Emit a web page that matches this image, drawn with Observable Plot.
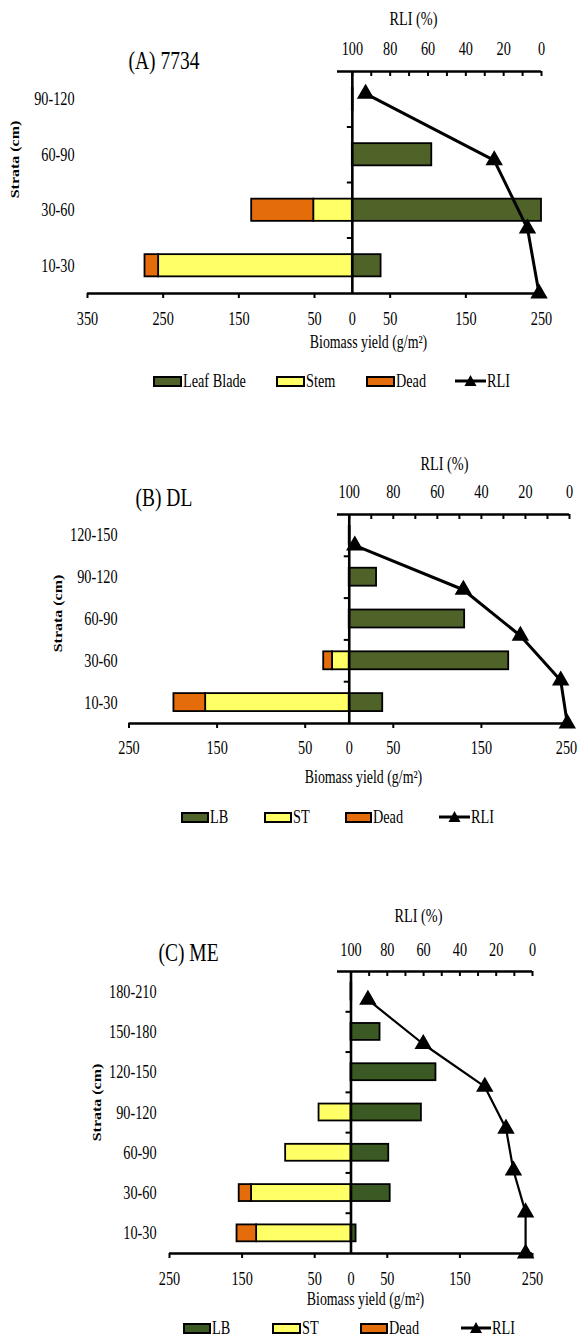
<!DOCTYPE html>
<html><head><meta charset="utf-8">
<script src="https://cdn.jsdelivr.net/npm/d3@7"></script>
<script src="https://cdn.jsdelivr.net/npm/@observablehq/plot@0.6"></script>
<style>
body{margin:0;background:#fff;}
#page{position:relative;width:578px;height:1340px;overflow:hidden;background:#fff;font-family:"Liberation Serif","Times New Roman",serif;color:#000;}
.panel{position:absolute;left:0;}
.box{position:absolute;border:2px solid #000;box-sizing:border-box;height:11px;}
.lt{position:absolute;font-size:19px;line-height:20px;white-space:nowrap;transform:scaleX(0.75);transform-origin:0 50%;}
.mk{position:absolute;}
</style></head><body><div id="page"></div>
<script>
// ---------- DATA ----------
// (A) 7734
const strataA = ["10-30", "30-60", "60-90", "90-120"];
const leafA = [38, 250, 105, 1];
const stemA = [256, 51, 0, 0];
const deadA = [18, 82, 0, 0];
const rliA = [1.3, 7.4, 25, 93];
const rliLevelA = [0, 1.17, 2.40, 3.60];
const xTicksA = [-350, -250, -150, -50, 0, 50, 150, 250];

// (B) DL
const strataB = ["10-30", "30-60", "60-90", "90-120", "120-150"];
const leafB = [38, 181, 131, 31, 1];
const stemB = [163, 19, 0, 0, 0];
const deadB = [36, 10, 0, 0, 0];
const rliB = [1, 4, 22.3, 48.2, 97.5];
const rliLevelB = [0, 1.03, 2.1, 3.2, 4.26];
const xTicksB = [-250, -150, -50, 0, 50, 150, 250];

// (C) ME
const strataC = ["10-30", "30-60", "60-90", "90-120", "120-150", "150-180", "180-210"];
const leafC = [7, 54, 52, 97, 117, 40, 1];
const stemC = [130, 137, 90, 44, 0, 0, 0];
const deadC = [27, 17, 0, 0, 0, 0, 0];
const rliC = [3.8, 3.8, 10.5, 14.6, 26.3, 60.2, 90.7];
const rliLevelC = [0, 1.02, 2.06, 3.1, 4.14, 5.2, 6.3];
const xTicksC = [-250, -150, -50, 0, 50, 150, 250];

// RLI (%) top axis
const rliTickLabels = [100, 80, 60, 40, 20, 0];
const rliMinorTicks = [100, 90, 80, 70, 60, 50, 40, 30, 20, 10, 0];

const partNames = ["LB", "ST", "Dead"];
const stemColor = "#FFFF66";
const deadColor = "#E46C0A";

// ---------- DRAW ----------
const page = document.getElementById("page");
const SX = 0.75; // horizontal squeeze of the lettering, as in the reference

function squeezeTexts(svg) {
  svg.querySelectorAll("text").forEach(t => {
    const tr = t.getAttribute("transform");
    if (tr) {
      t.setAttribute("transform", tr + (tr.includes("rotate") ? ` scale(1,${SX})` : ` scale(${SX},1)`));
    } else {
      const x = +t.getAttribute("x") || 0, y = +t.getAttribute("y") || 0;
      t.setAttribute("transform", `translate(${x},${y}) scale(${SX},1) translate(${-x},${-y})`);
    }
  });
}

function panel(cfg) {
  const {strata, leaf, stem, dead, rli, rliLevel, xTicks, xDomain, top, height,
         ml, mr, mt, mb, lbColor, half, lineW, title, titlePos, rliTitlePos,
         topLabelY, botLabelY, strataRight, strataLabelPos, biomassPos, topStartPx, edgeDx} = cfg;
  const n = strata.length;
  const W = 578;
  const k = (W - ml - mr) / (xDomain[1] - xDomain[0]);   // px per unit
  const bandPx = (height - mt - mb) / n;
  const xOfPx = (px) => xDomain[0] + (px - ml) / k;
  const segs = [];
  strata.forEach((s, i) => {
    segs.push({i, x1: 0, x2: leaf[i], part: "LB"});
    if (stem[i]) segs.push({i, x1: -stem[i], x2: 0, part: "ST"});
    if (dead[i]) segs.push({i, x1: -stem[i] - dead[i], x2: -stem[i], part: "Dead"});
  });
  const pts = rli.map((v, j) => ({v, lvl: rliLevel[j]}));
  const rx = (r) => (100 - r) * 2.5;
  const bounds = d3.range(1, n);
  const at = (txt, px, py, o = {}) => Plot.text([txt], {
    frameAnchor: "top-left", dx: px - ml, dy: py - top - mt, lineAnchor: "middle", fill: "black", ...o
  });
  const xLast = xTicks[xTicks.length - 1];
  const svg = Plot.plot({
    width: W, height, marginLeft: ml, marginRight: mr, marginTop: mt, marginBottom: mb,
    x: {domain: xDomain, axis: null},
    y: {domain: [0, n], axis: null},
    color: {domain: partNames, range: [lbColor, stemColor, deadColor]},
    style: {fontFamily: "'Liberation Serif', 'Times New Roman', serif", fontSize: "19px", background: "transparent", color: "black", overflow: "visible"},
    marks: [
      Plot.rect(segs, {x1: "x1", x2: "x2", y1: d => d.i + 0.5 - half, y2: d => d.i + 0.5 + half,
        fill: "part", stroke: "black", strokeWidth: 1.8}),
      // axes lines
      Plot.ruleY([0], {x1: xDomain[0], x2: xDomain[1], stroke: "black", strokeWidth: 2.6}),
      Plot.ruleY([n], {x1: xOfPx(topStartPx), x2: xDomain[1], stroke: "black", strokeWidth: 2.6}),
      Plot.ruleX([0], {y1: 0, y2: n, stroke: "black", strokeWidth: 2.6}),
      // bottom ticks (downward)
      Plot.ruleX(xTicks.filter(d => d !== 0), {x: d => d, y1: 0, y2: -5 / bandPx, stroke: "black", strokeWidth: 2}),
      // top RLI ticks (downward, inside)
      Plot.ruleX(rliMinorTicks, {x: rx, y1: n, y2: n - 5 / bandPx, stroke: "black", strokeWidth: 2}),
      // stratum boundary ticks on zero line
      Plot.ruleY(bounds, {x1: -5 / k, x2: 0, stroke: "black", strokeWidth: 2}),
      // tick labels
      Plot.text(xTicks.filter(d => d !== xLast), {x: d => d, frameAnchor: "top", dy: botLabelY - top - mt, text: d => String(Math.abs(d)), lineAnchor: "middle", fontSize: 19}),
      Plot.text([xLast], {x: d => d, frameAnchor: "top", dx: edgeDx, dy: botLabelY - top - mt, text: d => String(Math.abs(d)), lineAnchor: "middle", fontSize: 19}),
      Plot.text(rliTickLabels, {x: rx, frameAnchor: "top", dy: topLabelY - top - mt, text: d => String(d), lineAnchor: "middle", fontSize: 19}),
      Plot.text(strata, {y: (d, i) => i + 0.5, frameAnchor: "left", dx: strataRight - ml, textAnchor: "end", lineAnchor: "middle", fontSize: 19}),
      // RLI profile
      Plot.line(pts, {x: d => rx(d.v), y: "lvl", stroke: "black", strokeWidth: lineW}),
      Plot.dot(pts, {x: d => rx(d.v), y: "lvl", symbol: "triangle", r: 5.5, fill: "black", stroke: "black"}),
      // titles
      at(title, titlePos[0], titlePos[1], {textAnchor: "start", fontSize: 26}),
      at("RLI (%)", rliTitlePos[0], rliTitlePos[1], {textAnchor: "middle", fontSize: 19}),
      at("Strata (cm)", strataLabelPos[0], strataLabelPos[1], {textAnchor: "middle", rotate: -90, fontSize: 16, fontWeight: "bold"}),
      at("Biomass yield (g/m²)", biomassPos[0], biomassPos[1], {textAnchor: "middle", fontSize: 18.5})
    ]
  });
  squeezeTexts(svg);
  const wrap = document.createElement("div");
  wrap.className = "panel";
  wrap.style.top = top + "px";
  wrap.appendChild(svg);
  page.appendChild(wrap);
}

function legend(y, items, lbColor) {
  const colors = {LB: lbColor, ST: stemColor, Dead: deadColor};
  for (const it of items) {
    if (it.kind === "RLI") {
      const s = document.createElementNS("http://www.w3.org/2000/svg", "svg");
      s.setAttribute("width", it.x1 - it.x0);
      s.setAttribute("height", 14);
      s.setAttribute("class", "mk");
      s.style.left = it.x0 + "px";
      s.style.top = (y - 7) + "px";
      const w = it.x1 - it.x0;
      s.innerHTML = `<line x1="0" x2="${w}" y1="7" y2="7" stroke="black" stroke-width="3"/>` +
        `<path d="M${w / 2 - 6},12 L${w / 2},1 L${w / 2 + 6},12 Z" fill="black"/>`;
      page.appendChild(s);
    } else {
      const b = document.createElement("div");
      b.className = "box";
      b.style.left = it.x0 + "px";
      b.style.width = (it.x1 - it.x0) + "px";
      b.style.top = (y - 5.5) + "px";
      b.style.background = colors[it.kind];
      page.appendChild(b);
    }
    const t = document.createElement("span");
    t.className = "lt";
    t.textContent = it.label;
    t.style.left = (it.x1 + 1) + "px";
    t.style.top = (y - 10) + "px";
    page.appendChild(t);
  }
}

panel({
  strata: strataA, leaf: leafA, stem: stemA, dead: deadA, rli: rliA, rliLevel: rliLevelA,
  xTicks: xTicksA, xDomain: [-350, 250], top: 0, height: 355, ml: 87, mr: 37, mt: 71, mb: 62,
  lbColor: "#4F6228", half: 0.2, lineW: 3, title: "(A) 7734", titlePos: [128, 60],
  rliTitlePos: [413, 18], topLabelY: 48, botLabelY: 318, strataRight: 74,
  strataLabelPos: [15, 159], biomassPos: [368, 342], topStartPx: 337, edgeDx: 0
});
legend(381, [
  {kind: "LB", x0: 153, x1: 182, label: "Leaf Blade"},
  {kind: "ST", x0: 276, x1: 305, label: "Stem"},
  {kind: "Dead", x0: 366, x1: 395, label: "Dead"},
  {kind: "RLI", x0: 455, x1: 486, label: "RLI"}
], "#4F6228");

panel({
  strata: strataB, leaf: leafB, stem: stemB, dead: deadB, rli: rliB, rliLevel: rliLevelB,
  xTicks: xTicksB, xDomain: [-250, 250], top: 440, height: 350, ml: 128.5, mr: 9, mt: 74, mb: 67,
  lbColor: "#4F6228", half: 0.215, lineW: 3, title: "(B) DL", titlePos: [135, 497],
  rliTitlePos: [444, 463], topLabelY: 491, botLabelY: 747, strataRight: 117,
  strataLabelPos: [58, 613], biomassPos: [363, 777], topStartPx: 337, edgeDx: -3
});
legend(817, [
  {kind: "LB", x0: 181, x1: 209, label: "LB"},
  {kind: "ST", x0: 264, x1: 292, label: "ST"},
  {kind: "Dead", x0: 345, x1: 372, label: "Dead"},
  {kind: "RLI", x0: 439, x1: 470, label: "RLI"}
], "#4F6228");

panel({
  strata: strataC, leaf: leafC, stem: stemC, dead: deadC, rli: rliC, rliLevel: rliLevelC,
  xTicks: xTicksC, xDomain: [-250, 250], top: 895, height: 420, ml: 169, mr: 46, mt: 76, mb: 62,
  lbColor: "#3B5A23", half: 0.21, lineW: 2.2, title: "(C) ME", titlePos: [158, 952],
  rliTitlePos: [418, 915], topLabelY: 949, botLabelY: 1278, strataRight: 156,
  strataLabelPos: [97, 1102], biomassPos: [365, 1299], topStartPx: 337, edgeDx: 0
});
legend(1328, [
  {kind: "LB", x0: 183, x1: 211, label: "LB"},
  {kind: "ST", x0: 272, x1: 301, label: "ST"},
  {kind: "Dead", x0: 360, x1: 388, label: "Dead"},
  {kind: "RLI", x0: 461, x1: 491, label: "RLI"}
], "#3B5A23");
</script></body></html>
